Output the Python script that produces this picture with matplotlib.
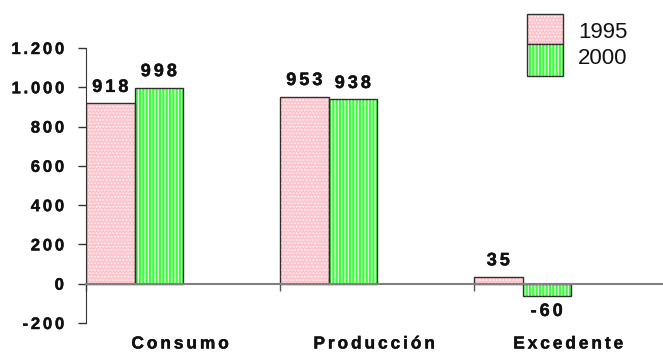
import matplotlib
matplotlib.use("Agg")
import matplotlib.pyplot as plt
import matplotlib.patheffects as pe
from matplotlib.patches import Rectangle
from matplotlib.transforms import blended_transform_factory

plt.rcParams['font.family'] = ['Liberation Sans', 'DejaVu Sans']
plt.rcParams['hatch.linewidth'] = 0.7

categories = ["Consumo", "Producción", "Excedente"]
years = ["1995", "2000"]
values_1995 = [918, 953, 35]
values_2000 = [998, 938, -60]
y_ticks = [-200, 0, 200, 400, 600, 800, 1000, 1200]

PINK = "#ffc4cb"
GREEN = "#44f844"
EDGE = "#303030"
TEXT = "#111111"
HATCH_1995 = "....."
HATCH_2000 = "|||||"
HEAVY = [pe.withStroke(linewidth=0.3, foreground=TEXT)]


def spaced(s, sep="\u2006"):
    return sep.join(s)


def fmt_num(v):
    return f"{v:,}".replace(",", ".")


fig = plt.figure(figsize=(6.63, 3.56), dpi=100)
ax = fig.add_axes([86 / 663, 33 / 356, 577 / 663, 275 / 356])

n = len(categories)
bar_w = 0.25
for i in range(n):
    for j, (vals, col, hatch) in enumerate(
            [(values_1995, PINK, HATCH_1995), (values_2000, GREEN, HATCH_2000)]):
        x = i + bar_w * (j + 0.5)
        v = vals[i]
        ax.bar(x, v, width=bar_w, color=col, edgecolor="white",
               hatch=hatch, linewidth=0, zorder=2)
        ax.bar(x, v, width=bar_w, fill=False, edgecolor=EDGE,
               linewidth=1.0, zorder=3)
        off = 11.5 if v >= 0 else -11.5
        ax.annotate(spaced(str(v)), (x, v), xytext=(0, off),
                    textcoords="offset points", ha="center", va="center",
                    fontsize=13, fontweight="bold", color=TEXT,
                    path_effects=HEAVY)

ax.set_ylim(-200, 1200)
ax.set_xlim(0, 577 / 194)
ax.set_yticks(y_ticks)
ax.set_yticklabels([spaced(fmt_num(v)) for v in y_ticks],
                   fontsize=12, fontweight="bold", color=TEXT)
for lbl in ax.get_yticklabels():
    lbl.set_path_effects(HEAVY)
ax.tick_params(axis="y", direction="out", length=6, width=1, pad=10,
               color="#333333")

ax.set_xticks(range(n))
ax.set_xticklabels([])
ax.tick_params(axis="x", direction="out", length=5, width=1, color="#555555")

for side in ("top", "right"):
    ax.spines[side].set_visible(False)
ax.spines["bottom"].set_position(("data", 0))
ax.spines["bottom"].set_color("#808080")
ax.spines["bottom"].set_linewidth(1.5)
ax.spines["bottom"].set_zorder(4)
ax.spines["left"].set_color("#333333")

trans = blended_transform_factory(ax.transData, fig.transFigure)
for i, cat in enumerate(categories):
    ax.text(i + 0.485, 12 / 356, spaced(cat), transform=trans,
            ha="center", va="center", fontsize=12.5, fontweight="bold",
            color=TEXT, path_effects=HEAVY)

# legend drawn as stacked swatches
legend_items = [(PINK, HATCH_1995, 14, 44, 33), (GREEN, HATCH_2000, 44, 76, 59)]
for (col, hatch, top, bot, ty), label in zip(legend_items, years):
    xy = (527 / 663, (356 - bot) / 356)
    w, h = 36 / 663, (bot - top) / 356
    fig.add_artist(Rectangle(xy, w, h, transform=fig.transFigure,
                             facecolor=col, edgecolor="white", hatch=hatch,
                             linewidth=0))
    fig.add_artist(Rectangle(xy, w, h, transform=fig.transFigure,
                             fill=False, edgecolor=EDGE, linewidth=1.0))
    fig.text(578 / 663, (356 - ty) / 356, label, ha="left", va="center",
             fontsize=16, color=TEXT)

fig.savefig("out.png", dpi=100)
